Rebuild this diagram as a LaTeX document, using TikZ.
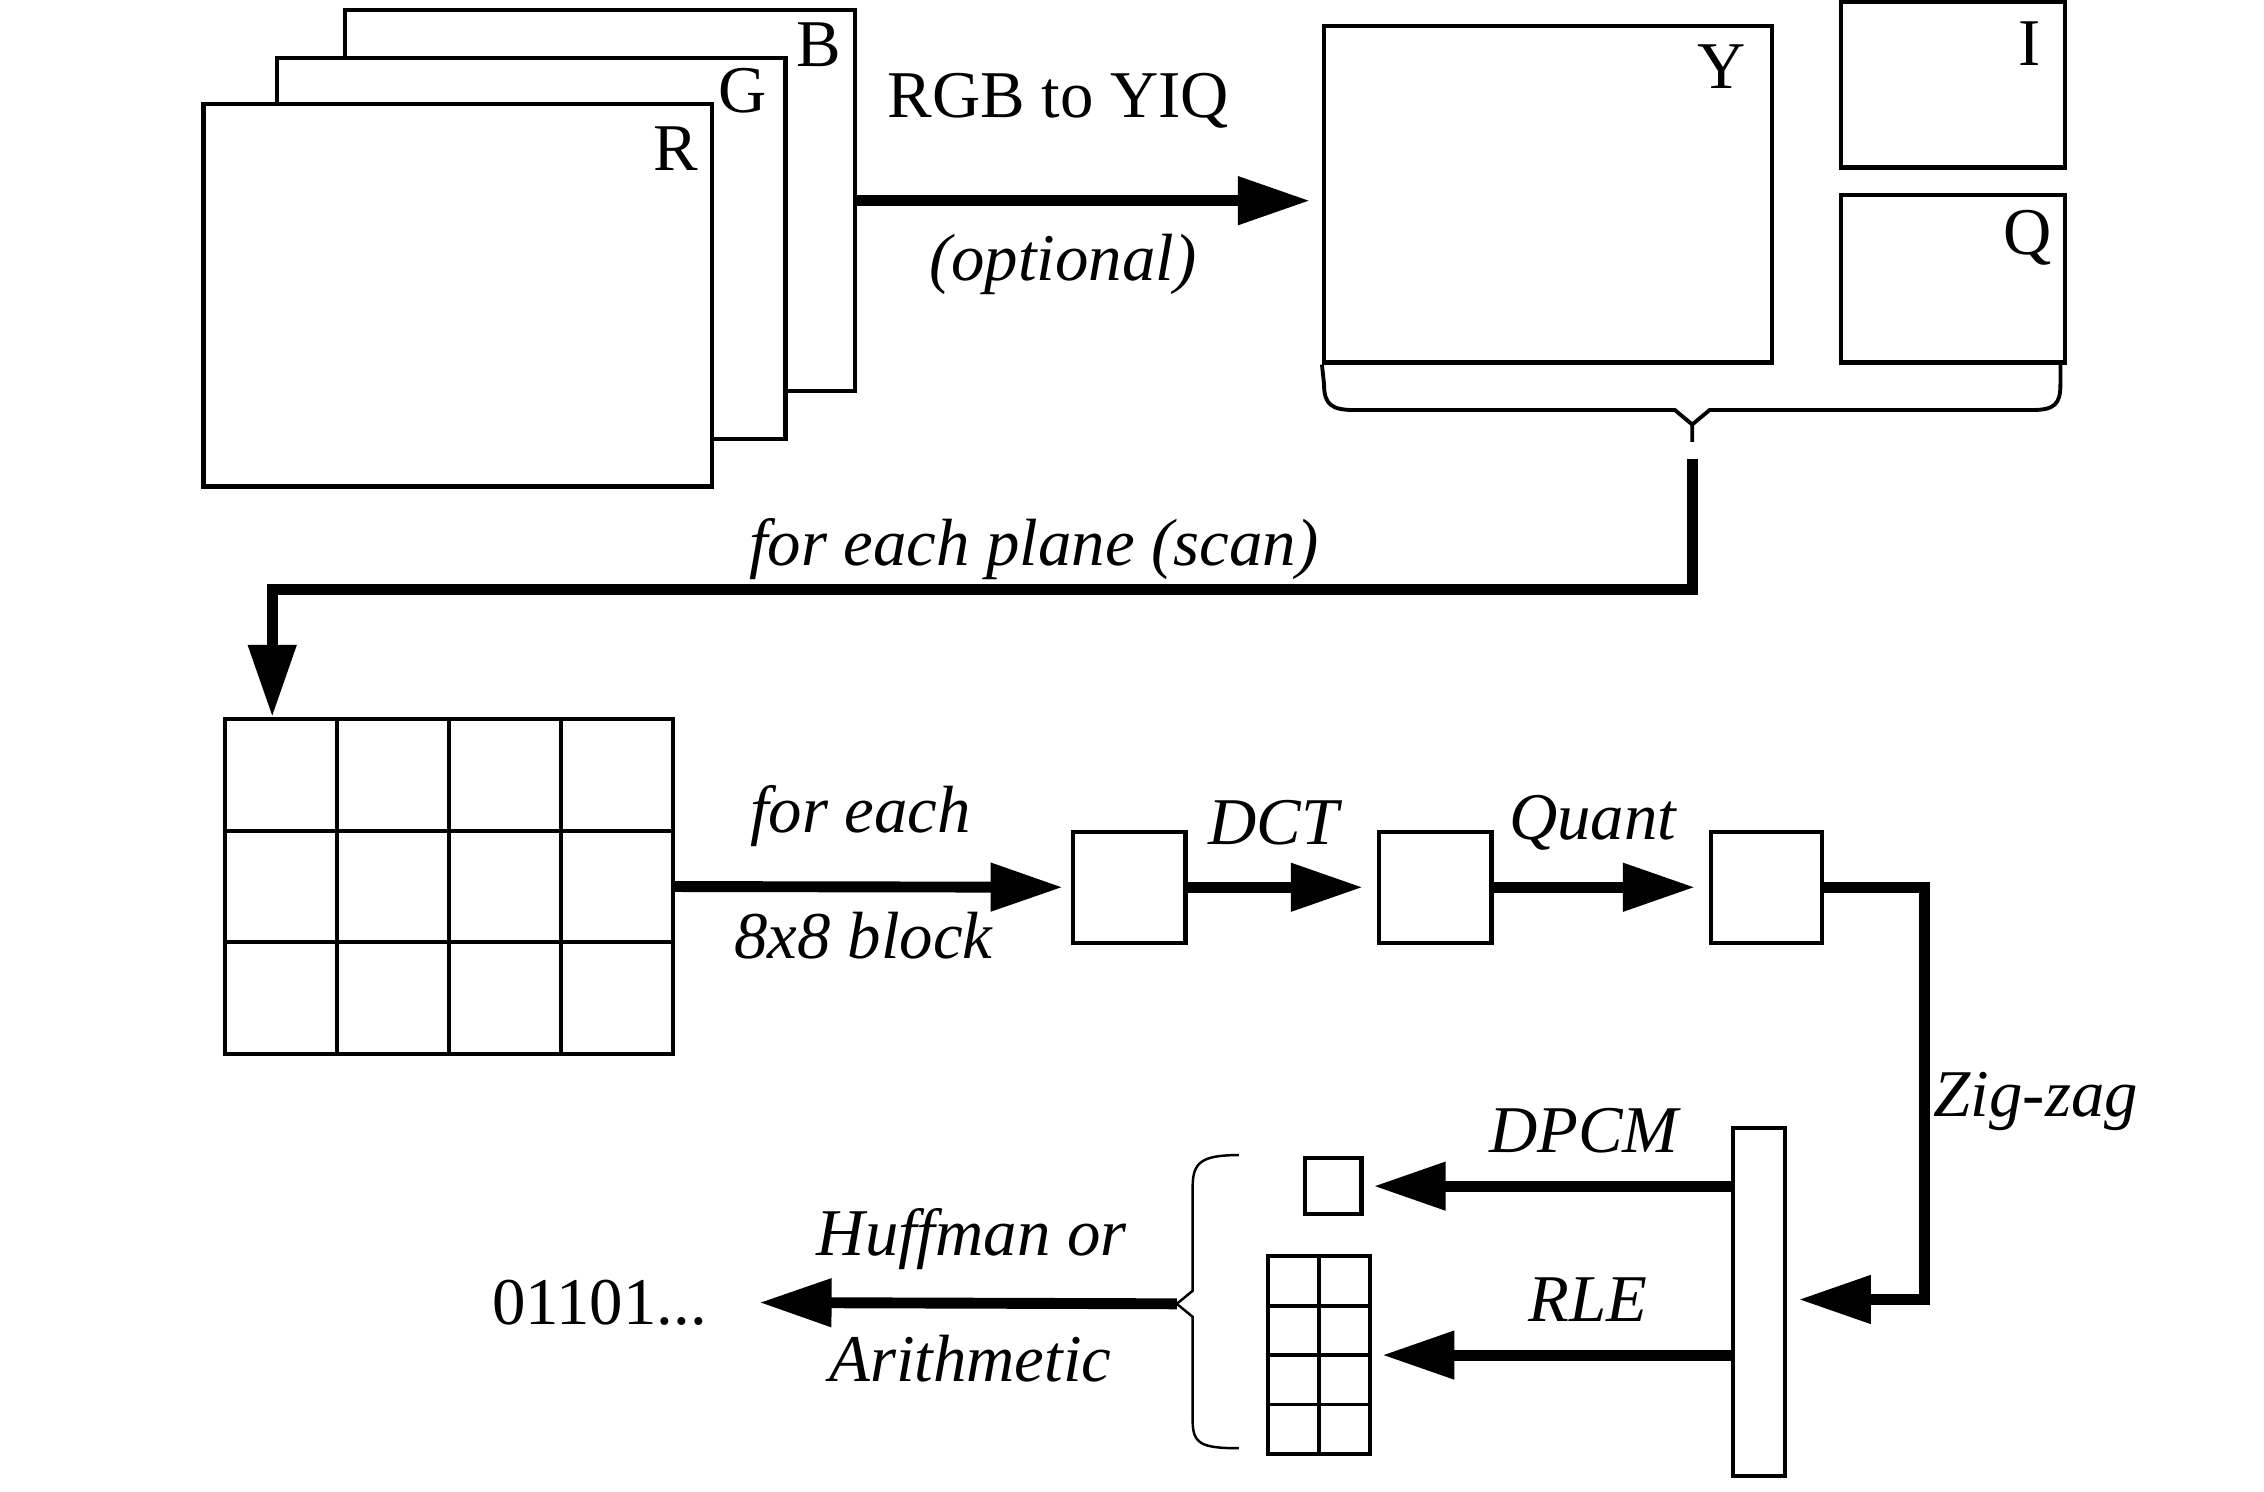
\documentclass[tikz,border=0pt]{standalone}
\usepackage{fontspec}
\setmainfont{Liberation Serif}
\usetikzlibrary{arrows.meta,fit,calc}
\begin{document}
\begin{tikzpicture}[x=0.01444cm,y=-0.01444cm,
  box/.style={draw, line width=1.2pt, inner sep=0pt},
  wbox/.style={box, fill=white},
  gridline/.style={line width=1.1pt},
  bracepath/.style={line width=1.1pt},
  thinbrace/.style={line width=0.7pt},
  flow/.style={line width=3.1pt, -{Triangle[length=0.72cm,width=0.46cm]}},
  lab/.style={font=\fontsize{19}{22}\selectfont, inner sep=0pt},
  ilab/.style={font=\fontsize{19}{22}\selectfont\itshape, inner sep=0pt}]
\useasboundingbox (0,0) rectangle (1568,1033);

% RGB planes
\node[box,  fit={(239,7) (592,271)}] (B) {};
\node[wbox, fit={(192,40) (544,304)}] (G) {};
\node[wbox, fit={(141,72) (493,337)}] (R) {};
\node[lab] (Bl) at (567,31) {B};
\node[lab] (Gl) at (514,63) {G};
\node[lab] (Rl) at (468,103) {R};

% YIQ planes
\node[box, fit={(917,18) (1227,251)}] (Y) {};
\node[box, fit={(1275,1.5) (1430,116)}] (I) {};
\node[box, fit={(1275,135) (1430,251)}] (Q) {};
\node[lab] (Yl) at (1192,46) {Y};
\node[lab] (Il) at (1406,30) {I};
\node[lab] (Ql) at (1404,165) {Q};

\draw[flow, shorten >=0.12cm] (B.east) -- (B.east -| Y.west);
\node[lab]  (rgbyiq) at (733,70) {RGB to YIQ};
\node[ilab] (opt)    at (736,183) {(optional)};

% brace under Y, I, Q
\coordinate (bt) at (1172,306);
\draw[bracepath] (Y.south west) -- (917,266) .. controls (917,280) and (922,284) .. (938,284)
  -- (1160,284) -- (1172,294) -- (bt);
\draw[bracepath] (1172,294) -- (1184,284) -- (1407,284) .. controls (1423,284) and (1427,280) .. (1427,266) -- (1427,251);

% plane loop
\node[box, fit={(156,498) (466,730)}] (grid) {};
\foreach \x in {233.5,311,388.5} \draw[gridline] (\x,498) -- (\x,730);
\foreach \y in {575.3,652.7} \draw[gridline] (156,\y) -- (466,\y);
\coordinate (c1) at (1172,318);
\coordinate (c2) at (1172,408);
\draw[flow] (c1) -- (c2) -| ($(grid.north west)+(34,0)$);
\node[ilab] (scan) at (716,380) {for each plane (scan)};

% block pipeline
\node[box, fit={(743,576) (821,653)}] (b1) {};
\node[box, fit={(955,576) (1033,653)}] (b2) {};
\node[box, fit={(1185,576) (1262,653)}] (b3) {};
\draw[flow, shorten >=0.08cm] (grid.east) -- (b1.west);
\draw[flow, shorten >=0.14cm] (b1.east) -- (b2.west);
\draw[flow, shorten >=0.14cm] (b2.east) -- (b3.west);
\node[ilab] (fe)    at (596,565) {for each};
\node[ilab] (blk)   at (598,648) {8x8 block};
\node[ilab] (dct)   at (882,570) {DCT};
\node[ilab] (quant) at (1103,570) {Quant};

% zig-zag
\node[box, fit={(1200,781) (1236,1022)}] (bar) {};
\coordinate (zz) at (1333,900);
\draw[flow, shorten >=0.12cm] (b3.east) -| (zz) -- (zz -| bar.east);
\node[ilab] (zig) at (1410,763) {Zig-zag};

% DPCM / RLE
\node[box, fit={(904,802) (943,841)}] (sb) {};
\node[box, fit={(878,870) (949,1007)}] (sg) {};
\draw[gridline] (913.5,870) -- (913.5,1007);
\foreach \y in {904.25,938.5,972.75} \draw[gridline] (878,\y) -- (949,\y);
\draw[flow, shorten >=0.1cm] (bar.west |- sb.east) -- (sb.east);
\draw[flow, shorten >=0.1cm] (bar.west |- sg.east) -- (sg.east);
\node[ilab] (dpcm) at (1097,783) {DPCM};
\node[ilab] (rle)  at (1100,900) {RLE};

% left brace
\coordinate (lb) at (815,903);
\draw[thinbrace] (858,800) .. controls (832,800) and (826,805) .. (826,822) -- (826,894) -- (lb)
  -- (826,912) -- (826,984) .. controls (826,1000) and (832,1003) .. (858,1003);

% entropy coding
\node[lab, anchor=east] (bits) at (490,902) {01101...};
\draw[flow, shorten >=0.52cm] (lb) -- (bits.east);
\node[ilab] (huf) at (673,858) {Huffman or};
\node[ilab] (ari) at (672,941) {Arithmetic};
\end{tikzpicture}
\end{document}
